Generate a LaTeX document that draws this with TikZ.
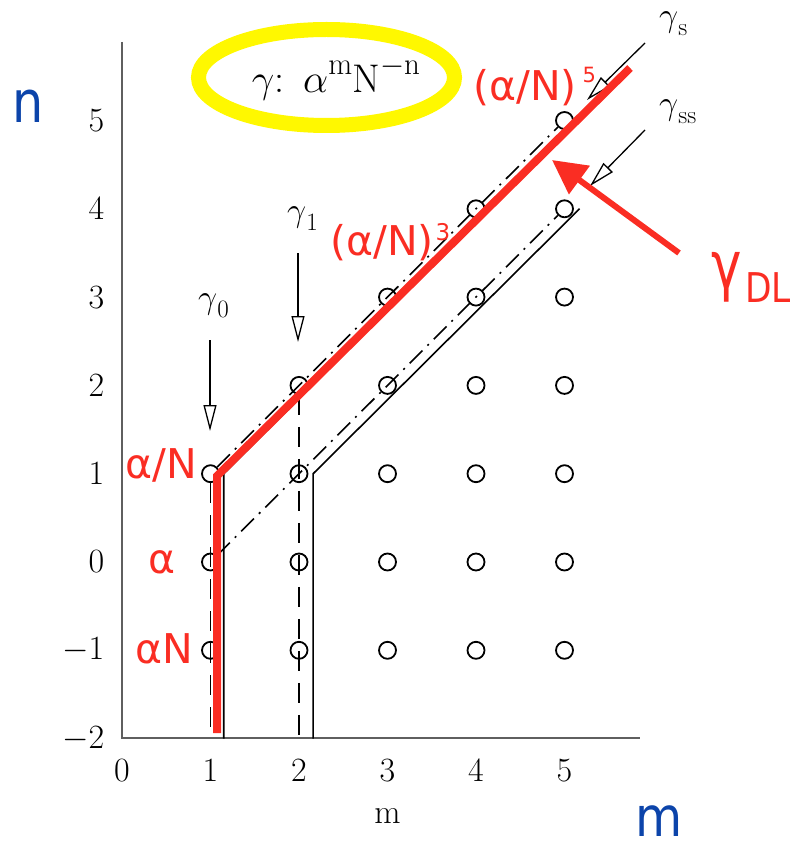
\documentclass[tikz,border=0pt]{standalone}
\usepackage{fix-cm}
\usepackage{fontspec}
\newfontfamily\sansf{DejaVu Sans}
\usetikzlibrary{arrows.meta}
\definecolor{redl}{RGB}{250,45,35}
\definecolor{bluel}{RGB}{12,68,170}
\definecolor{yell}{RGB}{255,248,0}
\definecolor{axgray}{RGB}{95,95,95}
\newcommand{\smallsub}[1]{\raisebox{-9pt}{\fontsize{25}{25}\selectfont #1}}
\newcommand{\bigsup}[1]{\raisebox{18pt}{\fontsize{31}{31}\selectfont #1}}
\tikzset{
  ticklab/.style={font=\fontsize{34}{34}\selectfont, inner sep=0pt},
  redlab/.style={text=redl, font=\sansf\fontsize{41}{41}\selectfont, inner sep=0pt},
  bluelab/.style={text=bluel, font=\sansf\fontsize{58}{58}\selectfont, inner sep=0pt},
  glab/.style={font=\fontsize{34}{34}\selectfont, inner sep=0pt},
  openarrow/.style={line width=1.3pt, -{Triangle[open, length=26pt, width=13pt, line width=1.3pt]}},
  dotc/.style={circle, draw, line width=1.8pt, minimum size=17pt, inner sep=0pt},
  dashv/.style={line width=1.6pt, dash pattern=on 20pt off 12pt},
  dashdot/.style={line width=1.6pt, dash pattern=on 18pt off 7pt on 2pt off 7pt},
  solidl/.style={line width=1.6pt},
  axisl/.style={axgray, line width=2pt},
}
\begin{document}
\begin{tikzpicture}[x=1pt,y=-1pt]
\useasboundingbox (0,0) rectangle (796,850);
% yellow ellipse and formula
\draw[yell, line width=15pt] (326.5,77.5) ellipse [x radius=128pt, y radius=48pt];
\node[glab, font=\fontsize{40}{40}\selectfont, anchor=base] (formula) at (336,93)
  {$\gamma$:\ \,$\alpha$\bigsup{m}N\bigsup{$-$n}};
% axes
\coordinate (axtop) at (122,42);
\coordinate (axorg) at (122,738);
\coordinate (axright) at (640,738);
\draw[axisl] (axtop) -- (axorg) -- (axright);
\begin{scope}[shift={(122,562)}, x=88.5pt, y=88.3pt]
  % tick labels
  \foreach \n in {-2,...,5}{
    \node[ticklab, anchor=east] (yt\n) at (-0.2,\n) {$\n$};
  }
  \foreach \m in {0,...,5}{
    \node[ticklab] (xt\m) at (\m,-2.36) {$\m$};
  }
  \node[ticklab] (mlab) at (3,-2.88) {m};
  % lattice circles
  \foreach \m in {1,...,5}{
    \foreach \n in {-1,...,\m}{
      \node[dotc] (c\m\n) at (\m,\n) {};
    }
  }
  % dashed verticals
  \coordinate (b1) at (1,-2);
  \coordinate (b2) at (2,-2);
  \draw[dashv] (c11.south) -- (b1);
  \draw[dashv] (c22.south) -- (b2);
  % dash-dot diagonals
  \draw[dashdot] (c11) -- (c55);
  \draw[dashdot] (c10) -- (c54);
  % solid paths
  \coordinate (s1b) at (1.15,-2);
  \coordinate (s1k) at (1.15,1);
  \coordinate (s1e) at (5.15,5);
  \coordinate (s2b) at (2.16,-2);
  \coordinate (s2k) at (2.16,1);
  \coordinate (s2e) at (5.17,4);
  \draw[solidl] (s1b) -- (s1k) -- (s1e);
  \draw[solidl] (s2b) -- (s2k) -- (s2e);
\end{scope}
% gamma labels and open arrows
\node[glab, anchor=base west] (g0) at (198,308) {$\gamma$\smallsub{0}};
\node[glab, anchor=base west] (g1) at (287,222) {$\gamma$\smallsub{1}};
\node[glab, anchor=base west] (gs) at (659,27) {$\gamma$\smallsub{s}};
\node[glab, anchor=base west] (gss) at (659,115) {$\gamma$\smallsub{ss}};
\coordinate (a0s) at (210,340); \coordinate (a0e) at (210,431);
\coordinate (a1s) at (298,253); \coordinate (a1e) at (298,342);
\coordinate (ass) at (645,43);  \coordinate (ase) at (587,100);
\coordinate (asss) at (645,130); \coordinate (asse) at (590,186);
\draw[openarrow] (a0s) -- (a0e);
\draw[openarrow] (a1s) -- (a1e);
\draw[openarrow] (ass) -- (ase);
\draw[openarrow] (asss) -- (asse);
% red thick path
\coordinate (rb) at (217,733);
\coordinate (rk) at (217,476);
\coordinate (re) at (630,68);
\draw[redl, line width=8pt] (rb) -- (rk) -- (re);
% red arrow
\coordinate (dltail) at (679,253);
\coordinate (dltip) at (552,160);
\draw[redl, line width=6pt, -{Triangle[length=34pt, width=34pt]}] (dltail) -- (dltip);
% red labels
\node[redlab, anchor=base east] (lan) at (197,478) {α/N};
\node[redlab, anchor=base east] (la) at (176,573) {α};
\node[redlab, anchor=base east] (laN) at (193,663) {αN};
\node[redlab, anchor=base west] (l3) at (330,255) {(α/N)\hspace{2pt}\raisebox{15pt}{\fontsize{23}{23}\selectfont 3}};
\node[redlab, anchor=base west] (l5) at (473,101) {(α/N)\hspace{6pt}\raisebox{18pt}{\fontsize{21}{21}\selectfont 5}};
\node[redlab, font=\sansf\fontsize{66}{66}\selectfont, anchor=base west] (gdl) at (711,288) {\scalebox{0.78}[1]{γ}};
\node[redlab, anchor=base west] (dl) at (745,302) {\scalebox{0.84}[1]{DL}};
% blue axis names
\node[bluelab] (nlab) at (28,106) {\scalebox{0.85}[1]{n}};
\node[bluelab, font=\sansf\fontsize{55}{55}\selectfont, anchor=base] (mblue) at (659,836) {\scalebox{0.88}[1]{m}};
\end{tikzpicture}
\end{document}
